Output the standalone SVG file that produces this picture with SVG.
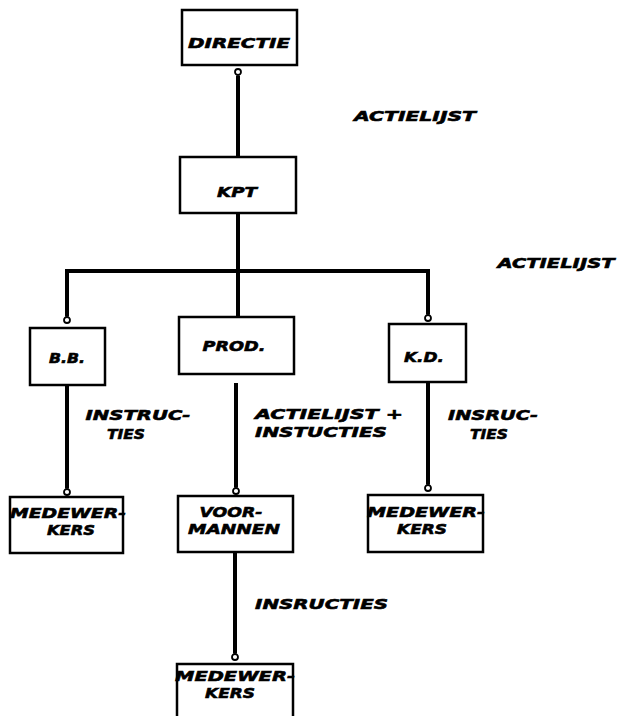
<svg xmlns="http://www.w3.org/2000/svg" width="623" height="716" viewBox="0 0 623 716">
<style>
.box{fill:#fff;stroke:#000;stroke-width:2.5}
.conn{fill:none;stroke:#000;stroke-width:4}
text{font-family:"DejaVu Sans","Liberation Sans",sans-serif;font-weight:bold;font-style:oblique;font-size:14.5px;fill:#000;stroke:#000;stroke-width:0.6;text-anchor:middle}
text.s{text-anchor:start}
</style>
<defs>
<marker id="dot" viewBox="0 0 10 10" refX="1.5" refY="5" markerWidth="10" markerHeight="10" markerUnits="userSpaceOnUse" orient="auto">
<circle cx="5" cy="5" r="3" fill="#fff" stroke="#000" stroke-width="1.8"/>
</marker>
<marker id="tri" viewBox="0 0 10 10" refX="2" refY="5" markerWidth="10" markerHeight="10" markerUnits="userSpaceOnUse" orient="auto">
<path d="M0,1 L8,5 L0,9 Z" fill="#000"/>
</marker>
</defs>
<rect width="623" height="716" fill="#fff"/>
<g id="connectors">
<path class="conn" d="M238,157 V75.5" marker-end="url(#dot)"/>
<path class="conn" d="M238,214 V320" marker-end="url(#tri)"/>
<path class="conn" d="M238,271 H67 V316.5" marker-end="url(#dot)"/>
<path class="conn" d="M238,271 H428 V314.5" marker-end="url(#dot)"/>
<path class="conn" d="M67,385 V488.5" marker-end="url(#dot)"/>
<path class="conn" d="M236,383 V487.5" marker-end="url(#dot)"/>
<path class="conn" d="M428,382 V484.5" marker-end="url(#dot)"/>
<path class="conn" d="M235,553 V653.5" marker-end="url(#dot)"/>
</g>
<g id="directie"><rect class="box" x="182" y="10" width="115" height="55"/><text x="239" y="48" textLength="102" lengthAdjust="spacingAndGlyphs">DIRECTIE</text></g>
<g id="kpt"><rect class="box" x="180" y="157" width="116" height="56"/><text x="237" y="197" textLength="40" lengthAdjust="spacingAndGlyphs">KPT</text></g>
<g id="bb"><rect class="box" x="30" y="328" width="75" height="57"/><text x="67" y="363" textLength="36" lengthAdjust="spacingAndGlyphs">B.B.</text></g>
<g id="prod"><rect class="box" x="179" y="317" width="115" height="57"/><text x="234" y="351" textLength="63" lengthAdjust="spacingAndGlyphs">PROD.</text></g>
<g id="kd"><rect class="box" x="389" y="324" width="77" height="58"/><text x="424" y="362" textLength="40" lengthAdjust="spacingAndGlyphs">K.D.</text></g>
<g id="medewerkers-bb"><rect class="box" x="10" y="497" width="113" height="56"/><text x="68" y="518" textLength="116" lengthAdjust="spacingAndGlyphs">MEDEWER-</text><text x="71" y="535" textLength="48" lengthAdjust="spacingAndGlyphs">KERS</text></g>
<g id="voormannen"><rect class="box" x="178" y="496" width="115" height="56"/><text x="231" y="517" textLength="63" lengthAdjust="spacingAndGlyphs">VOOR-</text><text x="234" y="534" textLength="92" lengthAdjust="spacingAndGlyphs">MANNEN</text></g>
<g id="medewerkers-kd"><rect class="box" x="368" y="495" width="115" height="57"/><text x="426" y="517" textLength="118" lengthAdjust="spacingAndGlyphs">MEDEWER-</text><text x="422" y="534" textLength="50" lengthAdjust="spacingAndGlyphs">KERS</text></g>
<g id="medewerkers-prod"><rect class="box" x="177" y="664" width="116" height="70"/><text x="235" y="681" textLength="120" lengthAdjust="spacingAndGlyphs">MEDEWER-</text><text x="230" y="698" textLength="50" lengthAdjust="spacingAndGlyphs">KERS</text></g>
<g id="labels">
<text x="415" y="121" textLength="122" lengthAdjust="spacingAndGlyphs">ACTIELIJST</text>
<text x="556" y="268" textLength="117" lengthAdjust="spacingAndGlyphs">ACTIELIJST</text>
<text x="138" y="420" textLength="105" lengthAdjust="spacingAndGlyphs">INSTRUC-</text>
<text x="126" y="439" textLength="38" lengthAdjust="spacingAndGlyphs">TIES</text>
<text class="s" x="255" y="419" textLength="148" lengthAdjust="spacingAndGlyphs">ACTIELIJST +</text>
<text class="s" x="255" y="437" textLength="132" lengthAdjust="spacingAndGlyphs">INSTUCTIES</text>
<text x="493" y="420" textLength="90" lengthAdjust="spacingAndGlyphs">INSRUC-</text>
<text x="489" y="439" textLength="38" lengthAdjust="spacingAndGlyphs">TIES</text>
<text class="s" x="255" y="609" textLength="133" lengthAdjust="spacingAndGlyphs">INSRUCTIES</text>
</g>
</svg>
